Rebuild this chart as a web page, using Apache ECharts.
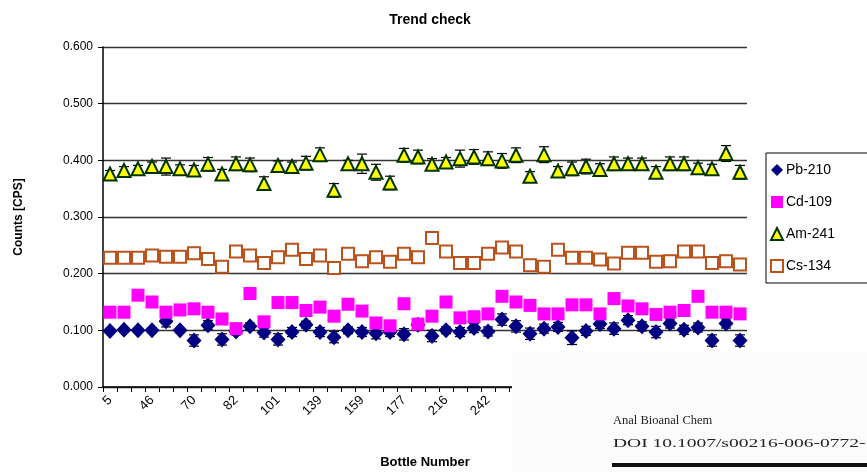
<!DOCTYPE html>
<html><head><meta charset="utf-8">
<script src="https://cdn.jsdelivr.net/npm/echarts@6/dist/echarts.min.js"></script>
<style>html,body{margin:0;padding:0;background:#fff}#c{width:867px;height:472px}</style>
</head><body><div id="c"></div>
<script>
var bottles = ['5','18','31','46','54','62','70','74','78','82','88','95','101','114','126','139','145','152','159','165','171','177','190','203','216','224','233','242','252','263','275','283','291','300','308','316','325','333','341','350','358','366','375','383','391','400'];
var pb210 = [0.099,0.101,0.100,0.100,0.116,0.100,0.082,0.109,0.084,0.098,0.107,0.096,0.084,0.097,0.110,0.097,0.088,0.100,0.097,0.095,0.097,0.093,0.110,0.090,0.100,0.097,0.104,0.098,0.119,0.107,0.094,0.103,0.106,0.087,0.099,0.111,0.103,0.118,0.107,0.097,0.112,0.101,0.105,0.082,0.112,0.082];
var pb210Err = [0.004,0.004,0.004,0.004,0.010,0.004,0.010,0.008,0.010,0.006,0.006,0.008,0.010,0.008,0.006,0.008,0.010,0.006,0.008,0.010,0.008,0.010,0.010,0.010,0.006,0.008,0.008,0.008,0.010,0.010,0.010,0.008,0.008,0.012,0.008,0.008,0.010,0.008,0.008,0.010,0.008,0.008,0.008,0.010,0.008,0.010];
var cd109 = [0.132,0.132,0.162,0.150,0.132,0.136,0.138,0.132,0.120,0.103,0.165,0.115,0.149,0.149,0.135,0.141,0.125,0.146,0.134,0.113,0.108,0.147,0.111,0.125,0.150,0.122,0.124,0.129,0.160,0.150,0.144,0.129,0.129,0.145,0.145,0.129,0.156,0.143,0.138,0.128,0.132,0.135,0.160,0.132,0.132,0.129];
var am241 = [0.376,0.382,0.385,0.389,0.389,0.385,0.383,0.393,0.376,0.394,0.392,0.359,0.391,0.389,0.395,0.410,0.347,0.394,0.394,0.379,0.360,0.409,0.406,0.393,0.397,0.403,0.406,0.403,0.399,0.409,0.372,0.410,0.381,0.385,0.389,0.384,0.394,0.394,0.394,0.379,0.394,0.394,0.387,0.385,0.412,0.379];
var am241Err = [0.006,0.007,0.006,0.008,0.015,0.007,0.008,0.012,0.008,0.012,0.012,0.012,0.008,0.008,0.012,0.012,0.012,0.006,0.017,0.014,0.012,0.012,0.012,0.010,0.008,0.015,0.013,0.012,0.013,0.013,0.008,0.014,0.008,0.012,0.013,0.010,0.012,0.010,0.010,0.010,0.012,0.012,0.008,0.008,0.014,0.012];
var cs134 = [0.228,0.228,0.228,0.232,0.230,0.230,0.236,0.226,0.212,0.239,0.232,0.219,0.229,0.242,0.226,0.232,0.210,0.235,0.222,0.229,0.221,0.235,0.229,0.263,0.239,0.219,0.219,0.235,0.246,0.239,0.215,0.212,0.242,0.228,0.228,0.225,0.218,0.237,0.237,0.221,0.222,0.239,0.239,0.219,0.222,0.216];
var yTicks = [0, 0.1, 0.2, 0.3, 0.4, 0.5, 0.6];

function errData(vals, errs){ return vals.map(function(v,i){ return [i, v, errs[i]]; }); }
function errRender(params, api){
  var i = api.value(0), v = api.value(1), e = api.value(2);
  var t = api.coord([i, v + e]), b = api.coord([i, v - e]);
  var w = 5;
  return {type:'group', children:[
    {type:'line', shape:{x1:t[0],y1:t[1],x2:b[0],y2:b[1]}, style:{stroke:'#000',lineWidth:1}},
    {type:'line', shape:{x1:t[0]-w,y1:t[1],x2:t[0]+w,y2:t[1]}, style:{stroke:'#000',lineWidth:1.2}},
    {type:'line', shape:{x1:b[0]-w,y1:b[1],x2:b[0]+w,y2:b[1]}, style:{stroke:'#000',lineWidth:1.2}}
  ]};
}

var chart = echarts.init(document.getElementById('c'));
var F = 'Liberation Sans, Arial, sans-serif';
chart.setOption({
  animation:false,
  backgroundColor:'#fff',
  title:{text:'Trend check', left:425, top:8, textAlign:'center', textStyle:{fontFamily:F, fontSize:14, fontWeight:'bold', color:'#000'}},
  grid:{left:103, right:120, top:47, bottom:85, containLabel:false, outerBoundsMode:'none'},
  legend:{
    orient:'vertical', left:766, top:153, itemWidth:12, itemHeight:12, itemGap:18,
    borderColor:'#000', borderWidth:1, padding:[10,60,10,4],
    textStyle:{fontFamily:F, fontSize:14, color:'#000', padding:[0,0,0,-2]},
    data:[
      {name:'Pb-210', icon:'diamond', itemStyle:{color:'#000080', opacity:1}},
      {name:'Cd-109', icon:'rect', itemStyle:{color:'#ff00ff', opacity:1}},
      {name:'Am-241', icon:'triangle'},
      {name:'Cs-134', icon:'rect'}
    ]
  },
  xAxis:{
    type:'category', data:bottles, boundaryGap:true,
    name:'Bottle Number', nameLocation:'middle', nameGap:69,
    nameTextStyle:{fontFamily:F, fontSize:13, fontWeight:'bold', color:'#000'},
    axisLine:{lineStyle:{color:'#000', width:1.5}},
    axisTick:{show:true, interval:0, length:5, lineStyle:{color:'#000'}},
    axisLabel:{interval:2, rotate:45, fontFamily:F, fontSize:13, color:'#000', margin:11, hideOverlap:false},
    splitLine:{show:false}
  },
  yAxis:{
    type:'value', min:yTicks[0], max:yTicks[yTicks.length-1], interval:0.1,
    name:'Counts [CPS]', nameLocation:'middle', nameGap:78,
    nameTextStyle:{fontFamily:F, fontSize:12, fontWeight:'bold', color:'#000'},
    axisLine:{show:true, lineStyle:{color:'#000', width:1.5}},
    axisTick:{show:true, length:5, lineStyle:{color:'#000'}},
    axisLabel:{fontFamily:F, fontSize:12, color:'#000', margin:10, formatter:function(v){return v.toFixed(3);}},
    splitLine:{show:true, lineStyle:{color:'#333', width:1.3}}
  },
  series:[
    {type:'custom', name:'Pb-210 err', renderItem:errRender, data:errData(pb210, pb210Err), z:2, silent:true},
    {type:'scatter', name:'Pb-210', data:pb210, symbol:'diamond', symbolSize:[15,16], itemStyle:{color:'#000080', opacity:1}, z:3},
    {type:'scatter', name:'Cd-109', data:cd109, symbol:'rect', symbolSize:13, itemStyle:{color:'#ff00ff', opacity:1}, z:4},
    {type:'custom', name:'Am-241 err', renderItem:errRender, data:errData(am241, am241Err), z:5, silent:true},
    {type:'scatter', name:'Am-241', data:am241, symbol:'triangle', symbolSize:[13,13], itemStyle:{color:'#ffff00', borderColor:'#003300', borderWidth:2, opacity:1}, z:6},
    {type:'scatter', name:'Cs-134', data:cs134, symbol:'rect', symbolSize:12, itemStyle:{color:'#ffffff', borderColor:'#bb521c', borderWidth:2, opacity:1}, z:7}
  ],
  graphic:[
    {type:'rect', left:512, top:352, shape:{width:355, height:120}, style:{fill:'#fbfbfb'}, z:100},
    {type:'text', left:613, top:414, style:{text:'Anal Bioanal Chem', font:'12.5px "Liberation Serif", serif', fill:'#222'}, z:101},
    {type:'text', left:613, top:437, scaleX:1.5, style:{text:'DOI 10.1007/s00216-006-0772-', font:'13px "Liberation Serif", serif', fill:'#222'}, z:101},
    {type:'rect', left:612, top:463, shape:{width:255, height:4}, style:{fill:'#111'}, z:101}
  ]
});
</script></body></html>
